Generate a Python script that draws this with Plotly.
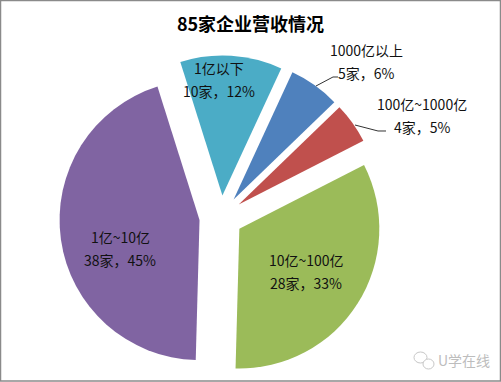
import plotly.graph_objects as go

# ---- data ----
categories = ['1亿以下', '1000亿以上', '100亿~1000亿', '10亿~100亿', '1亿~10亿']
counts = [10, 5, 4, 28, 38]
colors = ['#4BACC6', '#4F81BD', '#C0504D', '#9BBB59', '#8064A2']
title_text = '85家企业营收情况'
watermark = 'U学在线'

total = sum(counts)
percents = [round(c / total * 100) for c in counts]

# ---- layout helpers (pixels) ----
W, H = 501, 382
def px(x):
    return x / W
def py(y):
    return 1 - y / H

# label line centres: (x, y_line1, y_line2), same order as categories
label_pos = [
    (219, 68, 91),
    (366, 50, 73),
    (422, 104, 127),
    (306, 260, 283),
    (120, 237, 260),
]

pull = 0.155
fig = go.Figure(go.Pie(
    labels=categories,
    values=counts,
    sort=False,
    direction='clockwise',
    rotation=-17.5,
    pull=[pull] * len(counts),
    marker=dict(colors=colors, line=dict(width=0)),
    textinfo='none',
    hoverinfo='label+value+percent',
    showlegend=False,
    domain=dict(x=[0.1184, 0.7639], y=[0.0086, 0.855]),
))

annotations = []
font_family = '"Noto Sans CJK SC", "Microsoft YaHei", sans-serif'
for cat, n, p, (lx, ly1, ly2) in zip(categories, counts, percents, label_pos):
    annotations.append(dict(x=px(lx), y=py(ly1), xref='paper', yref='paper',
                            text=cat, showarrow=False, xanchor='center', yanchor='middle',
                            font=dict(family=font_family, size=14, color='#111111')))
    annotations.append(dict(x=px(lx), y=py(ly2), xref='paper', yref='paper',
                            text=f'{n}家，{p}%', showarrow=False, xanchor='center', yanchor='middle',
                            font=dict(family=font_family, size=14, color='#111111')))

annotations.append(dict(x=px(464), y=py(360), xref='paper', yref='paper', text=watermark,
                        showarrow=False, xanchor='center', yanchor='middle',
                        font=dict(family=font_family, size=14, color='#bdbdbd')))

def path(points):
    s = 'M ' + ' L '.join(f'{px(x):.5f},{py(y):.5f}' for x, y in points)
    return s

shapes = [
    # leader lines
    dict(type='path', xref='paper', yref='paper',
         path=path([(316, 86), (333, 77), (338, 77)]), line=dict(color='#333333', width=1)),
    dict(type='path', xref='paper', yref='paper',
         path=path([(355, 125), (378, 131), (386, 131)]), line=dict(color='#333333', width=1)),
    # watermark icon
    dict(type='circle', xref='paper', yref='paper', x0=px(414), x1=px(427), y0=py(363), y1=py(352),
         line=dict(color='#c8c8c8', width=1)),
    dict(type='circle', xref='paper', yref='paper', x0=px(423), x1=px(434), y0=py(369), y1=py(359),
         line=dict(color='#c8c8c8', width=1), fillcolor='white'),
    # chart border
    dict(type='rect', xref='paper', yref='paper', x0=px(0.5), x1=px(500.5), y0=py(381), y1=py(0.5),
         line=dict(color='#8a8a8a', width=1.5)),
]

fig.update_layout(
    width=W, height=H,
    margin=dict(l=0, r=0, t=0, b=0),
    paper_bgcolor='white', plot_bgcolor='white',
    title=dict(text=f'<b>{title_text}</b>', x=0.5, xanchor='center', xref='container',
               y=py(25), yanchor='middle', yref='container',
               font=dict(family=font_family, size=18, color='#000000')),
    annotations=annotations,
    shapes=shapes,
)

fig.write_html('out.html',
               config={'displayModeBar': False},
               post_script="document.body.style.margin='0';document.body.style.overflow='hidden';")
